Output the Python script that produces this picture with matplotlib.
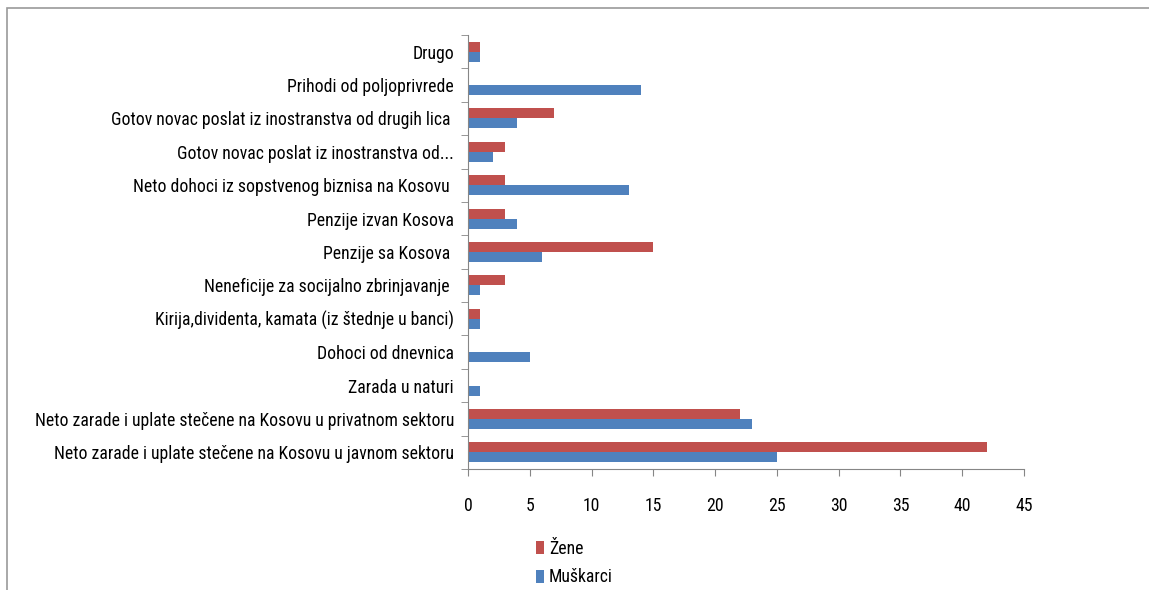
import matplotlib.pyplot as plt
import numpy as np
from matplotlib.patches import Rectangle

plt.rcParams["font.family"] = ["Roboto Condensed", "Lato", "DejaVu Sans"]

categories = [
    "Neto zarade i uplate stečene na Kosovu u javnom sektoru",
    "Neto zarade i uplate stečene na Kosovu u privatnom sektoru",
    "Zarada u naturi",
    "Dohoci od dnevnica",
    "Kirija,dividenta, kamata (iz štednje u banci)",
    "Neneficije za socijalno zbrinjavanje ",
    "Penzije sa Kosova ",
    "Penzije izvan Kosova",
    "Neto dohoci iz sopstvenog biznisa na Kosovu ",
    "Gotov novac poslat iz inostranstva od...",
    "Gotov novac poslat iz inostranstva od drugih lica ",
    "Prihodi od poljoprivrede",
    "Drugo",
]
zene = [42, 22, 0, 0, 1, 3, 15, 3, 3, 3, 7, 0, 1]
muskarci = [25, 23, 1, 5, 1, 1, 6, 4, 13, 2, 4, 14, 1]
xticks = [0, 5, 10, 15, 20, 25, 30, 35, 40, 45]

red = "#C0504D"
blue = "#4F81BD"
grey = "#868686"

fig = plt.figure(figsize=(11.49, 5.9), dpi=100)
ax = fig.add_axes([0.4073, 0.2051, 0.4839, 0.7356])

y = np.arange(len(categories))
h = 0.3
ax.barh(y + h / 2, zene, height=h, color=red, label="Žene")
ax.barh(y - h / 2, muskarci, height=h, color=blue, label="Muškarci")

ax.set_ylim(-0.5, len(categories) - 0.5)
ax.set_xlim(0, 45)
ax.set_xticks(xticks)
ax.set_yticks(y)
ax.set_yticklabels(categories)
ax.set_yticks(np.arange(-0.5, len(categories)), minor=True)
ax.tick_params(axis="y", which="major", length=0, pad=10, labelsize=12.7)
ax.tick_params(axis="y", which="minor", length=5, color=grey, direction="out")
ax.tick_params(axis="x", length=5, color=grey, direction="out", pad=15, labelsize=12.7)

for s in ["top", "right"]:
    ax.spines[s].set_visible(False)
for s in ["left", "bottom"]:
    ax.spines[s].set_color(grey)

handles, labels = ax.get_legend_handles_labels()
ax.legend(handles, labels, loc="upper left", bbox_to_anchor=(0.4585, 0.1),
          bbox_transform=fig.transFigure, frameon=False, fontsize=12.7,
          handlelength=0.45, handleheight=0.8, handletextpad=0.3,
          labelspacing=0.6, borderpad=0)

# outer chart frame
fig.patches.append(Rectangle((7 / 1149, -0.1), 1.2, 0.9864 + 0.1,
                             transform=fig.transFigure, fill=False,
                             edgecolor="#9a9a9a", linewidth=1.2))

fig.savefig("out.png", dpi=100)
